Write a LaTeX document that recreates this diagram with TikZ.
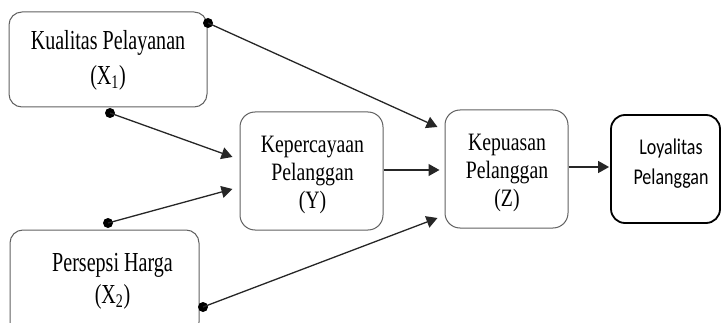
\documentclass[tikz,border=0pt]{standalone}
\usepackage{fontspec}
\setmainfont{Liberation Serif}
\newfontfamily\serifA{Liberation Serif}[FakeStretch=0.73]
\newfontfamily\serifB{Liberation Serif}[FakeStretch=0.79]
\newfontfamily\sansL{Carlito}[FakeStretch=0.8]
\usetikzlibrary{arrows.meta,calc}
\begin{document}
\begin{tikzpicture}[x=1pt,y=1pt,
  box/.style={draw=black!62, line width=1pt, rounded corners=13pt, inner sep=0pt},
  boxL/.style={draw=black, line width=1.8pt, rounded corners=14pt, inner sep=0pt},
  txtA/.style={align=center, inner sep=0pt, font=\serifA\fontsize{27.5}{35}\selectfont},
  txtA2/.style={align=center, inner sep=0pt, font=\serifA\fontsize{27.5}{32}\selectfont},
  txtB/.style={align=center, inner sep=0pt, font=\serifB\fontsize{25}{28}\selectfont},
  txtL/.style={align=center, inner sep=0pt, font=\sansL\fontsize{22.5}{29.5}\selectfont},
  dot/.style={circle, fill=black, inner sep=0pt, minimum size=10pt},
  conn/.style={line width=1.3pt, draw=black!85},
  arr/.style={conn, -{Triangle[length=11pt,width=12pt]}}]
\useasboundingbox (0,0) rectangle (721,322);
% boxes
\node[box, minimum width=198pt, minimum height=95pt] (x1) at (108,262.5) {};
\node[box, minimum width=189pt, minimum height=105pt] (x2) at (104.5,39.5) {};
\node[box, rounded corners=15pt, minimum width=143pt, minimum height=118pt] (y) at (311.5,151) {};
\node[box, rounded corners=15pt, minimum width=123pt, minimum height=118pt] (z) at (506.5,153) {};
\node[boxL, minimum width=109pt, minimum height=108pt] (l) at (665.5,153) {};
% texts
\node[txtA] (t1) at (108,261.5) {Kualitas Pelayanan\\(X\textsubscript{1})};
\node[txtA2] (t2) at (112.5,40.5) {Persepsi Harga\\(X\textsubscript{2})};
\node[txtB] (ty) at (312.5,147.3) {Kepercayaan\\Pelanggan\\(Y)};
\node[txtB] (tz) at (507,149) {Kepuasan\\Pelanggan\\(Z)};
\node[txtL] (tl) at (671,158.3) {Loyalitas\\Pelanggan};
% dots
\node[dot] (d1) at (208,299) {};
\node[dot] (d2) at (110,209) {};
\node[dot] (d3) at (108,99) {};
\node[dot] (d4) at (203,15) {};
% arrow targets
\coordinate (zin1) at ($(z.west)+(-7,42)$);
\coordinate (zin2) at ($(z.west)+(-5,-1)$);
\coordinate (zin3) at ($(z.west)+(-7,-49)$);
\coordinate (yin1) at ($(y.west)+(-7,14)$);
\coordinate (yin2) at ($(y.west)+(-7,-18)$);
\coordinate (yout) at ($(y.east)+(0,1)$);
\coordinate (zout) at ($(z.east)+(0,2)$);
\coordinate (lin) at ($(l.west)+(-1,2)$);
% connectors
\draw[arr] (d1.center) -- (zin1);
\draw[arr] (d2.center) -- (yin1);
\draw[arr] (d3.center) -- (yin2);
\draw[arr] (d4.center) -- (zin3);
\draw[arr] (yout) -- (zin2);
\draw[arr] (zout) -- (lin);
\end{tikzpicture}
\end{document}
